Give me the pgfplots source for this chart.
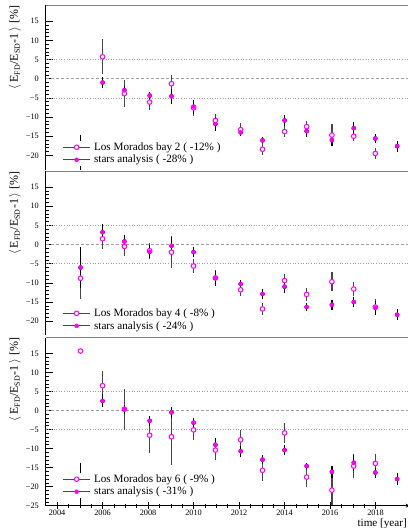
\documentclass[border=0pt]{standalone}
\usepackage{fontspec}
\setmainfont{Liberation Serif}
\usepackage{pgfplots}
\pgfplotsset{compat=1.18}
\usepackage{pgfplotstable}
\definecolor{mag}{RGB}{255,0,255}
\definecolor{framegray}{RGB}{128,128,128}
\definecolor{gridgray}{RGB}{160,160,160}
\definecolor{bargray}{RGB}{70,70,70}

% ---- panel 1 (bay 2) ----
\pgfplotstableread{
x y e
2006.00 5.7 4.6
2006.96 -3.9 3.6
2008.07 -6.1 2.1
2009.03 -1.3 2.3
2010.00 -7.6 2.0
2010.96 -10.9 1.6
2012.07 -13.3 1.7
2013.03 -18.4 1.5
2014.00 -13.8 1.5
2014.97 -12.5 1.5
2016.08 -14.7 2.8
2017.04 -15.0 1.3
2017.99 -19.5 1.5
}\pOneC
\pgfplotstableread{
x y e
2005.03 -20.0 5.2
2006.00 -1.0 1.5
2006.96 -3.0 1.0
2008.07 -4.4 1.0
2009.03 -4.6 2.0
2010.00 -7.3 1.8
2010.96 -11.8 1.8
2012.07 -14.0 1.0
2013.03 -16.1 0.8
2014.00 -10.9 1.4
2014.97 -13.7 1.4
2016.08 -16.0 1.6
2017.04 -12.9 1.6
2017.99 -15.6 1.1
2018.95 -17.6 1.4
}\pOneS
% ---- panel 2 (bay 4) ----
\pgfplotstableread{
x y e
2005.03 -8.8 5.5
2006.00 1.5 2.6
2006.96 -0.5 2.4
2008.07 -1.6 2.1
2009.03 -2.0 4.1
2010.00 -5.6 1.8
2010.96 -8.7 2.0
2012.07 -11.8 1.5
2013.03 -16.8 1.5
2014.00 -9.4 1.6
2014.97 -13.0 1.7
2016.08 -9.7 2.5
2017.04 -11.6 1.8
2017.99 -16.3 2.2
}\pTwoC
\pgfplotstableread{
x y e
2005.03 -6.0 5.3
2006.00 3.2 2.2
2006.96 0.8 1.6
2008.07 -1.9 1.7
2009.03 -0.35 2.4
2010.00 -2.0 1.3
2010.96 -8.8 2.0
2012.07 -10.3 1.1
2013.03 -12.9 1.3
2014.00 -11.0 1.6
2014.97 -16.3 1.0
2016.08 -15.7 1.3
2017.04 -15.0 1.4
2017.99 -16.5 1.9
2018.95 -18.3 1.4
}\pTwoS
% ---- panel 3 (bay 6) ----
\pgfplotstableread{
x y e
2005.03 15.6 0
2006.00 6.5 3.9
2006.96 0.35 5.4
2008.07 -6.5 4.6
2009.03 -6.9 7.4
2010.00 -5.1 2.6
2010.96 -10.4 2.7
2012.07 -7.7 2.5
2013.03 -15.7 2.7
2014.00 -5.9 2.7
2014.97 -17.5 2.6
2016.08 -20.9 3.8
2017.04 -14.6 3.1
2017.99 -13.9 2.4
}\pThreeC
\pgfplotstableread{
x y e
2005.03 -19.5 5.7
2006.00 2.5 1.7
2006.96 0.3 1.2
2008.07 -2.7 1.3
2009.03 -0.5 1.4
2010.00 -3.2 1.2
2010.96 -9.0 1.8
2012.07 -10.7 1.4
2013.03 -12.9 1.2
2014.00 -10.4 1.4
2014.97 -14.6 0.8
2016.08 -16.1 1.5
2017.04 -13.7 2.1
2017.99 -16.3 1.3
2018.95 -18.0 1.6
}\pThreeS

\pgfplotsset{
  panel/.style={
    scale only axis, width=364bp, xmin=2003.5, xmax=2019.5,
    axis y line=left, axis line style={-, black, line width=0.8bp},
    tick align=inside, clip mode=individual,
    major tick length=7.5bp, minor tick length=3.8bp,
    tick style={black, line width=0.6bp},
    minor y tick num=4,
    tick label style={font=\fontsize{8.3}{10}\selectfont},
    yticklabel style={xshift=-3.4bp},
    legend style={draw=none, fill=white, inner xsep=1bp, inner ysep=1bp,
      font=\fontsize{11.2}{13}\selectfont, row sep=1.3bp,
      nodes={inner sep=1bp},
      /tikz/every odd column/.append style={column sep=3bp}},
    legend cell align=left,
  },
  errC/.style={forget plot, only marks, mark=none,
    error bars/.cd, y dir=both, y explicit, error mark=none,
    error bar style={draw=bargray, line width=1.25bp, solid}},
  errS/.style={forget plot, only marks, mark=none,
    error bars/.cd, y dir=both, y explicit, error mark=none,
    error bar style={draw=black, line width=1.25bp, solid}},
  markC/.style={only marks, mark=*, mark size=2.3bp,
    mark options={draw=mag, fill=white, line width=1bp, solid},
    legend image code/.code={
      \draw[bargray, line width=0.9bp] (0bp,0bp) -- (27bp,0bp);
      \draw[mag, fill=white, line width=1bp] (14bp,0bp) circle (2.3bp);}},
  markS/.style={only marks, mark=*, mark size=2bp,
    mark options={draw=mag, fill=mag, solid},
    legend image code/.code={
      \draw[bargray, line width=0.9bp] (0bp,0bp) -- (27bp,0bp);
      \fill[mag] (14bp,0bp) circle (2bp);}},
}
\newcommand{\gridlines}{%
  \draw[gridgray, line width=0.6bp, dash pattern=on 1bp off 1.6bp] (axis cs:2003.5,5) -- (axis cs:2019.5,5);
  \draw[gridgray, line width=0.6bp, dash pattern=on 3bp off 2bp] (axis cs:2003.5,0) -- (axis cs:2019.5,0);
  \draw[gridgray, line width=0.6bp, dash pattern=on 1bp off 1.6bp] (axis cs:2003.5,-5) -- (axis cs:2019.5,-5);
  \draw[framegray, line width=1.5bp] (rel axis cs:0,1) -- (rel axis cs:1,1);
}
\newcommand{\ylab}{$\big\langle$\,E\textsubscript{FD}/E\textsubscript{SD}-1\,$\big\rangle$ [\%]}

\begin{document}
\begin{tikzpicture}
% ---------------- panel 1 ----------------
\begin{axis}[panel, name=p1, at={(45.7bp,-5.45bp)}, anchor=north west,
  height=164.5bp, ymin=-23.8, ymax=19.1, axis x line=none,
  ytick={-20,-15,-10,-5,0,5,10,15},
  yticklabels={−20,−15,−10,−5,0,5,10,15},
  legend style={at={(axis description cs:0.042,0.100)}, anchor=west}]
\gridlines
\addplot[errC] table[x=x, y=y, y error=e] {\pOneC};
\addplot[errS] table[x=x, y=y, y error=e] {\pOneS};
\addplot[markC] table[x=x, y=y] {\pOneC};
\addlegendentry{Los Morados bay 2 ( -12\% )}
\addplot[markS] table[x=x, y=y] {\pOneS};
\addlegendentry{stars analysis ( -28\% )}
\end{axis}
% ---------------- panel 2 ----------------
\begin{axis}[panel, name=p2, at={(45.7bp,-171.25bp)}, anchor=north west,
  height=163.4bp, ymin=-23.5, ymax=19.1, axis x line=none,
  ytick={-20,-15,-10,-5,0,5,10,15},
  yticklabels={−20,−15,−10,−5,0,5,10,15},
  legend style={at={(axis description cs:0.042,0.092)}, anchor=west}]
\gridlines
\addplot[errC] table[x=x, y=y, y error=e] {\pTwoC};
\addplot[errS] table[x=x, y=y, y error=e] {\pTwoS};
\addplot[markC] table[x=x, y=y] {\pTwoC};
\addlegendentry{Los Morados bay 4 ( -8\% )}
\addplot[markS] table[x=x, y=y] {\pTwoS};
\addlegendentry{stars analysis ( -24\% )}
\end{axis}
% ---------------- panel 3 ----------------
\begin{axis}[panel, name=p3, at={(45.7bp,-337.7bp)}, anchor=north west,
  height=168bp, ymin=-25, ymax=19.1, axis x line=bottom,
  ytick={-25,-20,-15,-10,-5,0,5,10,15},
  yticklabels={−25,−20,−15,−10,−5,0,5,10,15},
  xtick={2004,2006,2008,2010,2012,2014,2016,2018},
  xticklabels={2004,2006,2008,2010,2012,2014,2016,2018},
  minor x tick num=3,
  xticklabel style={inner sep=1bp, yshift=0.8bp},
  legend style={at={(axis description cs:0.042,0.1205)}, anchor=west}]
\gridlines
\addplot[errC] table[x=x, y=y, y error=e] {\pThreeC};
\addplot[errS] table[x=x, y=y, y error=e] {\pThreeS};
\addplot[markC] table[x=x, y=y] {\pThreeC};
\addlegendentry{Los Morados bay 6 ( -9\% )}
\addplot[markS] table[x=x, y=y] {\pThreeS};
\addlegendentry{stars analysis ( -31\% )}
\end{axis}
% ---------------- labels ----------------
\node[rotate=90, anchor=east, inner sep=0pt, font=\fontsize{12}{14}\selectfont] at ([xshift=-30.7bp]p1.north west) {\ylab};
\node[rotate=90, anchor=east, inner sep=0pt, font=\fontsize{12}{14}\selectfont] at ([xshift=-30.7bp]p2.north west) {\ylab};
\node[rotate=90, anchor=east, inner sep=0pt, font=\fontsize{12}{14}\selectfont] at ([xshift=-30.7bp]p3.north west) {\ylab};
\node[anchor=base east, inner sep=0pt, font=\fontsize{11.2}{13}\selectfont] at (407bp,-526.3bp) {time [year]};
\pgfresetboundingbox
\path[use as bounding box] (0bp,0bp) rectangle (408bp,-528bp);
\end{tikzpicture}
\end{document}
